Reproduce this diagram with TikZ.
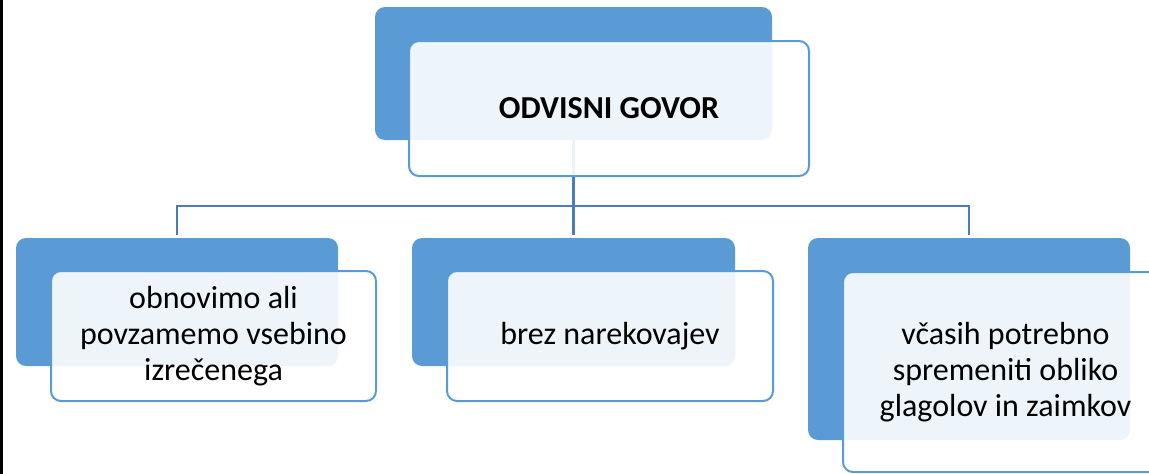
\documentclass[tikz,border=0pt]{standalone}
\usepackage{fontspec}
\setmainfont{Carlito}
\definecolor{smblue}{HTML}{5B9BD5}
\definecolor{linkblue}{HTML}{4A7EBB}
\tikzstyle{back}=[rectangle,rounded corners=10pt,fill=smblue,inner sep=0pt]
\tikzstyle{front}=[rectangle,rounded corners=10pt,draw=smblue,line width=2pt,fill=white,fill opacity=0.9,text opacity=1,text=black,align=center,inner sep=0pt,font=\fontsize{32}{36}\selectfont]
\tikzstyle{link}=[draw=linkblue,line width=2.2pt]

\begin{document}
\begin{tikzpicture}[x=1pt,y=-1pt]
                    \useasboundingbox (0,0) rectangle (1149,474);
                    \fill[black] (0,0) rectangle (2.5,474);

                    \node (top-b) at (573.5,73.5) [back,minimum width=397pt,minimum height=133pt] {};
                    \node (left-b) at (177,302) [back,minimum width=322pt,minimum height=128pt] {};
                    \node (mid-b) at (573.5,302) [back,minimum width=323pt,minimum height=128pt] {};
                    \node (right-b) at (969,339) [back,minimum width=322pt,minimum height=202pt] {};

                    \coordinate (bus) at (573.5,206);
                    \draw [link] (top-b.south) -- (bus);
                    \draw [link] (bus) -| ([yshift=3pt]left-b.north);
                    \draw [link] (bus) -- ([yshift=3pt]mid-b.north);
                    \draw [link] (bus) -| ([yshift=3pt]right-b.north);

                    \node (top) at (609,108.5) [front,minimum width=400pt,minimum height=135pt] {\textbf{ODVISNI GOVOR}};
                    \node (left) at (213.5,336) [front,minimum width=325pt,minimum height=130pt] {obnovimo ali\\povzamemo vsebino\\izrečenega};
                    \node (mid) at (610,336) [front,minimum width=326pt,minimum height=130pt] {brez narekovajev};
                    \node (right) at (1005.5,372) [front,minimum width=325pt,minimum height=200pt] {včasih potrebno\\spremeniti obliko\\glagolov in zaimkov};
                \end{tikzpicture}
\end{document}
